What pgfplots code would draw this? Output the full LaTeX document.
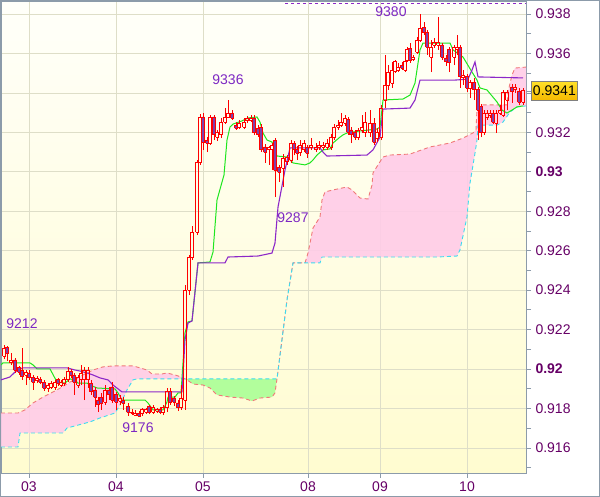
\documentclass[border=0pt]{standalone}
\usepackage{pgfplots}
\pgfplotsset{compat=1.18}
\usepackage{pgfplotstable}
\usepackage{fontspec}
\setmainfont{Liberation Sans}

\definecolor{tickpurple}{RGB}{102,0,102}
\definecolor{labelpurple}{RGB}{125,40,195}
\definecolor{axisgray}{RGB}{140,155,170}
\definecolor{gridc}{RGB}{222,222,200}
\definecolor{candlered}{RGB}{255,0,0}
\definecolor{candlefill}{RGB}{128,64,170}
\definecolor{tenkan}{RGB}{30,230,30}
\definecolor{kijun}{RGB}{140,40,200}
\definecolor{spanAc}{RGB}{240,120,120}
\definecolor{spanBc}{RGB}{60,220,240}
\definecolor{cloudpink}{RGB}{255,204,232}
\definecolor{cloudgreen}{RGB}{170,255,150}
\definecolor{bgtop}{RGB}{255,255,250}
\definecolor{bgbot}{RGB}{255,252,208}
\definecolor{boxtop}{RGB}{255,224,40}
\definecolor{boxbot}{RGB}{245,185,0}

% hourly candles, prices in pips (price x 10000): x (pixel position), open, high, low, close
\pgfplotstableread{
x o h l c
4 9206.5 9212.0 9205.0 9210.5
7 9211.0 9211.8 9204.0 9208.0
11 9203.1 9208.2 9202.1 9204.6
15 9204.6 9205.6 9198.0 9199.5
19 9200.6 9201.6 9197.0 9198.5
22 9199.5 9210.7 9194.5 9196.0
26 9197.0 9199.5 9191.9 9198.5
29 9198.0 9199.5 9194.5 9195.5
33 9195.5 9197.0 9189.4 9193.4
37 9194.0 9196.5 9192.9 9195.0
40 9194.5 9196.0 9192.4 9193.4
44 9193.4 9194.5 9188.9 9190.4
48 9190.4 9192.9 9188.4 9191.9
51 9190.9 9194.0 9189.9 9192.9
55 9190.9 9194.5 9189.4 9193.4
58 9194.5 9195.5 9191.4 9192.9
61 9191.9 9194.5 9190.9 9193.4
64 9192.9 9196.0 9191.4 9194.5
68 9194.5 9201.1 9193.4 9199.0
71 9199.0 9200.1 9195.5 9197.0
74 9197.0 9198.0 9186.9 9193.4
78 9191.9 9197.0 9190.4 9195.5
81 9194.5 9202.1 9191.9 9198.0
84 9194.5 9201.1 9184.3 9199.5
88 9194.5 9201.1 9190.4 9199.5
91 9192.9 9194.5 9186.9 9188.4
95 9189.4 9190.9 9180.8 9185.8
98 9184.3 9185.8 9178.2 9181.8
101 9185.8 9187.9 9179.3 9182.8
105 9183.3 9191.9 9181.8 9189.4
109 9189.4 9190.9 9184.3 9186.9
112 9190.9 9193.4 9182.8 9184.3
116 9186.9 9188.4 9179.3 9183.3
120 9183.8 9186.9 9181.8 9185.3
123 9184.3 9185.8 9179.3 9182.8
128 9180.8 9182.8 9176.2 9178.2
132 9178.2 9179.8 9176.7 9177.7
135 9176.7 9179.3 9176.2 9177.7
139 9177.7 9178.7 9176.0 9176.2
142 9177.7 9180.3 9176.2 9179.3
146 9178.2 9180.3 9177.2 9179.3
149 9180.8 9181.8 9177.2 9178.2
153 9178.2 9181.8 9177.2 9180.3
157 9178.7 9180.3 9177.7 9179.3
160 9179.3 9180.8 9177.2 9178.2
163 9178.2 9181.8 9176.7 9180.3
167 9180.3 9190.4 9178.2 9188.4
170 9188.4 9190.4 9181.8 9183.3
174 9185.3 9186.3 9181.3 9183.3
178 9182.8 9184.3 9178.7 9180.3
181 9180.3 9191.9 9179.3 9185.3
185 9184.3 9242.6 9179.3 9240.1
189 9240.1 9257.8 9237.5 9256.8
192 9256.8 9272.5 9255.3 9269.5
197 9269.5 9306.0 9267.9 9304.5
200 9304.5 9329.3 9303.5 9327.8
203 9327.8 9329.8 9311.1 9315.1
207 9316.1 9317.6 9310.0 9314.6
210 9314.6 9328.8 9313.6 9327.8
214 9327.8 9328.8 9316.1 9318.7
217 9317.6 9321.2 9315.6 9319.7
221 9318.7 9327.3 9317.1 9325.2
225 9325.2 9332.3 9324.2 9327.8
228 9327.8 9336.4 9327.3 9329.8
232 9329.8 9331.3 9326.3 9327.3
236 9323.7 9325.2 9321.2 9322.2
239 9322.7 9326.3 9321.7 9324.7
244 9322.7 9327.3 9321.7 9325.2
247 9325.8 9328.3 9324.7 9326.8
251 9325.8 9328.8 9325.2 9327.3
254 9327.3 9328.8 9318.7 9319.7
258 9322.2 9323.7 9317.6 9318.7
261 9322.7 9324.2 9310.0 9311.1
265 9312.6 9314.1 9304.5 9310.0
269 9311.1 9313.1 9303.5 9312.1
272 9311.1 9314.6 9300.9 9313.6
275 9316.1 9317.1 9287.2 9300.9
279 9302.4 9303.5 9294.8 9299.9
283 9301.9 9309.0 9292.3 9307.0
287 9305.0 9308.5 9303.5 9307.5
291 9306.0 9316.1 9304.5 9314.6
294 9314.6 9315.6 9308.5 9311.1
297 9311.1 9313.1 9306.0 9309.5
300 9310.0 9316.1 9308.0 9313.6
304 9311.1 9316.1 9310.0 9314.6
307 9312.1 9313.6 9307.0 9309.5
311 9312.1 9317.1 9311.1 9313.6
316 9311.1 9314.6 9310.0 9312.6
319 9312.1 9315.6 9311.1 9313.6
323 9312.6 9315.1 9311.1 9313.6
327 9312.6 9316.6 9311.1 9314.6
331 9312.6 9319.2 9311.1 9317.6
334 9317.6 9324.2 9316.1 9322.7
338 9322.7 9326.3 9321.2 9323.7
341 9323.7 9329.8 9322.7 9325.2
345 9324.7 9328.8 9323.2 9327.3
348 9326.3 9327.8 9318.7 9320.2
351 9321.2 9322.7 9314.6 9318.7
355 9319.7 9321.2 9316.1 9317.6
358 9317.6 9322.2 9316.1 9321.2
362 9321.2 9328.8 9319.7 9322.7
365 9319.7 9330.3 9317.6 9325.2
370 9319.7 9331.3 9317.6 9324.7
374 9324.7 9327.3 9313.6 9315.1
377 9317.1 9322.2 9315.1 9320.2
381 9317.6 9333.9 9316.1 9332.3
385 9336.4 9359.2 9332.3 9344.0
388 9344.0 9354.1 9341.5 9350.6
392 9345.0 9355.7 9342.5 9351.6
395 9351.1 9356.7 9350.1 9355.7
398 9351.6 9355.2 9350.6 9353.1
402 9354.1 9355.7 9351.6 9352.6
405 9351.6 9357.7 9350.6 9355.7
407 9356.7 9363.3 9355.7 9361.8
410 9362.3 9365.3 9355.2 9356.7
413 9357.2 9359.2 9356.2 9358.2
417 9360.7 9368.3 9359.7 9366.8
420 9366.8 9380.0 9365.8 9372.9
424 9373.4 9376.0 9369.3 9370.4
427 9370.4 9371.9 9359.2 9363.3
431 9358.2 9366.8 9350.6 9363.3
434 9364.3 9367.8 9362.8 9365.8
438 9364.3 9378.5 9361.8 9365.8
442 9364.3 9365.3 9356.7 9358.2
446 9357.7 9359.2 9353.6 9355.7
449 9361.8 9363.3 9350.6 9355.2
454 9358.2 9364.3 9354.1 9362.8
457 9361.8 9369.3 9359.2 9363.3
460 9362.8 9364.3 9342.5 9348.1
463 9347.6 9351.6 9344.0 9349.1
467 9348.1 9349.6 9340.5 9342.5
470 9342.5 9346.5 9337.4 9345.5
474 9345.5 9347.6 9336.4 9341.5
478 9341.5 9343.0 9316.1 9331.3
481 9332.9 9334.4 9317.6 9319.7
484 9320.2 9331.3 9318.7 9329.8
487 9327.8 9331.3 9326.3 9329.8
490 9328.8 9331.3 9327.3 9329.8
493 9329.8 9331.3 9324.2 9325.2
496 9324.7 9331.3 9319.7 9329.8
500 9329.8 9333.9 9328.8 9331.3
503 9328.8 9341.5 9327.8 9340.0
507 9336.4 9341.5 9331.3 9340.0
512 9343.0 9344.5 9334.9 9340.5
515 9341.5 9344.5 9340.0 9343.0
519 9340.5 9342.5 9333.9 9335.4
523 9335.4 9342.5 9333.9 9341.0
}\candles
\pgfplotstablegetrowsof{\candles}
\pgfmathtruncatemacro\ncandles{\pgfplotsretval-1}

\makeatletter
% #1 x, #2 open, #3 high, #4 low, #5 close
\newcommand\candle[5]{%
  \ifdim#2pt>#5pt\relax
    \edef\cbot{#5}\edef\ctop{#2}\def\cfill{candlefill}%
  \else
    \edef\cbot{#2}\edef\ctop{#5}\def\cfill{none}%
  \fi
  \edef\xl{\strip@pt\dimexpr#1pt-1.3pt\relax}%
  \edef\xr{\strip@pt\dimexpr#1pt+1.3pt\relax}%
  \edef\temp{%
    \noexpand\addplot[candlered, line width=0.9pt, forget plot] coordinates {(#1,#4) (#1,\cbot)};
    \noexpand\addplot[candlered, line width=0.9pt, forget plot] coordinates {(#1,\ctop) (#1,#3)};
    \noexpand\addplot[draw=candlered, fill=\cfill, line width=0.9pt, line join=miter, forget plot]
      coordinates {(\xl,\cbot) (\xr,\cbot) (\xr,\ctop) (\xl,\ctop) (\xl,\cbot)};
  }\temp}
\makeatother

\tikzset{lbl/.style={text=labelpurple, font=\fontsize{14}{14}\selectfont}}

\begin{document}
\begin{tikzpicture}
\useasboundingbox (0pt,0pt) rectangle (600pt,497pt);
\shade[top color=bgtop, bottom color=bgbot] (1pt,24pt) rectangle (526pt,496pt);
\begin{axis}[
  at={(1pt,24pt)}, anchor=south west, scale only axis,
  width=525pt, height=472pt,
  xmin=1, xmax=526, ymin=9147.3, ymax=9386.6,
  axis line style={draw=axisgray, line width=0.9pt},
  xtick={29,116,203,308,380,467},
  xticklabels={03,04,05,08,09,10},
  ytick={9160,9180,9200,9220,9240,9260,9280,9300,9320,9340,9360,9380},
  yticklabels={0.916,0.918,\textbf{0.92},0.922,0.924,0.926,0.928,\textbf{0.93},0.932,{},0.936,0.938},
  scaled ticks=false,
  minor ytick={9150,9170,9190,9210,9230,9250,9270,9290,9310,9330,9350,9370},
  tick align=outside, xtick pos=left, ytick pos=right, yticklabel pos=right,
  major tick length=5pt, minor tick length=5pt,
  tick style={draw=axisgray, line width=0.8pt},
  xmajorgrids, ymajorgrids, major grid style={draw=gridc, line width=0.8pt},
  ticklabel style={text=tickpurple, font=\fontsize{14}{14}\selectfont},
  yticklabel style={xshift=1pt},
]
% cloud fills (between senkou span A and span B)
\addplot[fill=cloudpink, draw=none, fill opacity=0.9, forget plot] coordinates {
(1,9177.7) (18,9177.7) (25,9179.3) (33,9182.8) (43,9185.8) (57,9189.4) (70,9193.4) (83,9197.0) (93,9199.5) (103,9201.1) (113,9201.6) (133,9201.6) (140,9200.6) (147,9199.5) (152,9197.5) (162,9197.5) (167,9198.0) (175,9197.0) (181,9196.0) (183,9195.5)
(183,9195.0) (137,9195.0) (133,9194.5) (127,9189.4) (120,9181.8) (115,9177.7) (100,9175.2) (90,9173.2) (67,9170.1) (63,9167.6) (20,9167.6) (18,9160.5) (1,9160.5)};
\addplot[fill=cloudgreen, draw=none, fill opacity=0.9, forget plot] coordinates {
(183,9195.5) (187,9194.5) (193,9192.4) (203,9191.9) (210,9190.4) (217,9186.9) (230,9185.8) (243,9185.3) (252,9183.8) (260,9185.3) (272,9185.8) (275,9187.9) (277,9195.0) (183,9195.0)};
\addplot[fill=cloudpink, draw=none, fill opacity=0.9, forget plot] coordinates {
(293,9253.8) (305,9253.8) (308,9258.8) (313,9271.5) (320,9277.1) (322,9285.7) (325,9289.8) (333,9290.8) (347,9292.3) (352,9290.8) (360,9286.7) (368,9286.2) (372,9293.3) (373,9299.4) (378,9303.5) (383,9307.5) (390,9308.5) (410,9309.0) (430,9312.6) (450,9314.6) (463,9317.1) (473,9319.7) (476,9321.2) (477,9331.8) (483,9333.9) (507,9333.9) (508,9340.5) (512,9349.1) (515,9352.6) (526,9353.1)
(526,9333.4) (517,9332.9) (510,9330.3) (503,9325.2) (497,9323.7) (478,9323.7) (477,9316.1) (475,9309.5) (470,9294.3) (467,9277.1) (460,9260.4) (457,9257.3) (437,9256.8) (322,9256.8) (320,9253.8) (293,9253.8)};

% Senkou span A and B (dashed)
\addplot[draw=spanAc, line width=0.9pt, dash pattern=on 4pt off 3pt] coordinates {
(1,9177.7) (18,9177.7) (25,9179.3) (33,9182.8) (43,9185.8) (57,9189.4) (70,9193.4) (83,9197.0) (93,9199.5) (103,9201.1) (113,9201.6) (133,9201.6) (140,9200.6) (147,9199.5) (152,9197.5) (162,9197.5) (167,9198.0) (175,9197.0) (181,9196.0) (187,9194.5) (193,9192.4) (203,9191.9) (210,9190.4) (217,9186.9) (230,9185.8) (243,9185.3) (252,9183.8) (260,9185.3) (272,9185.8) (275,9187.9) (277,9195.0) (287,9235.0) (293,9253.8) (305,9253.8) (308,9258.8) (313,9271.5) (320,9277.1) (322,9285.7) (325,9289.8) (333,9290.8) (347,9292.3) (352,9290.8) (360,9286.7) (368,9286.2) (372,9293.3) (373,9299.4) (378,9303.5) (383,9307.5) (390,9308.5) (410,9309.0) (430,9312.6) (450,9314.6) (463,9317.1) (473,9319.7) (476,9321.2) (477,9331.8) (483,9333.9) (507,9333.9) (508,9340.5) (512,9349.1) (515,9352.6) (526,9353.1)};
\addplot[draw=spanBc, line width=0.9pt, dash pattern=on 4pt off 3pt] coordinates {
(1,9160.5) (18,9160.5) (20,9167.6) (63,9167.6) (67,9170.1) (90,9173.2) (100,9175.2) (115,9177.7) (120,9181.8) (127,9189.4) (133,9194.5) (137,9195.0) (277,9195.0) (287,9235.0) (293,9253.8) (320,9253.8) (322,9256.8) (437,9256.8) (457,9257.3) (460,9260.4) (467,9277.1) (470,9294.3) (475,9309.5) (477,9316.1) (478,9323.7) (497,9323.7) (503,9325.2) (510,9330.3) (517,9332.9) (526,9333.4)};

% Tenkan-sen (conversion line)
\addplot[tenkan, line width=1pt] coordinates {
(1,9202.1) (3,9203.1) (30,9203.1) (33,9202.1) (37,9200.1) (50,9200.1) (57,9193.4) (65,9192.9) (70,9195.0) (75,9194.5) (78,9192.9) (87,9192.9) (90,9191.9) (97,9190.4) (115,9189.9) (118,9187.9) (122,9184.3) (145,9184.3) (148,9182.8) (153,9179.3) (163,9179.3) (167,9183.3) (168,9185.8) (175,9185.8) (178,9187.9) (181,9187.9) (185,9218.3) (188,9223.9) (192,9224.4) (198,9253.8) (210,9254.3) (213,9259.3) (217,9285.7) (224,9298.4) (227,9316.1) (230,9322.7) (233,9324.2) (242,9325.8) (248,9327.3) (257,9327.8) (260,9325.2) (263,9319.7) (267,9316.1) (272,9315.1) (277,9308.0) (287,9307.5) (293,9304.5) (305,9303.5) (310,9304.5) (313,9306.0) (317,9308.5) (323,9311.1) (330,9311.6) (333,9314.6) (340,9317.6) (343,9318.7) (347,9319.7) (360,9320.7) (377,9321.7) (380,9322.7) (383,9336.4) (403,9336.9) (410,9338.9) (415,9345.0) (420,9361.8) (423,9365.3) (450,9365.3) (453,9361.8) (463,9358.2) (472,9350.6) (477,9346.5) (480,9342.5) (487,9341.5) (497,9335.4) (502,9331.3) (507,9329.8) (512,9331.3) (517,9332.9) (523,9333.4)};
% Kijun-sen (base line)
\addplot[kijun, line width=1.1pt] coordinates {
(1,9194.5) (10,9196.0) (15,9198.5) (20,9200.1) (23,9200.6) (67,9200.6) (75,9199.5) (80,9199.0) (87,9198.0) (93,9197.0) (100,9195.5) (108,9194.5) (113,9191.9) (122,9188.4) (182,9188.4) (185,9214.7) (188,9223.3) (192,9224.4) (198,9253.8) (225,9253.8) (228,9256.8) (258,9257.3) (272,9258.8) (275,9263.9) (278,9282.1) (285,9300.9) (290,9312.1) (320,9312.1) (323,9310.0) (327,9308.0) (367,9308.5) (373,9311.1) (380,9317.6) (383,9331.8) (410,9332.3) (415,9336.4) (420,9346.5) (455,9346.5) (468,9347.0) (472,9351.6) (475,9355.7) (478,9348.1) (523,9347.6)};
% high marker line
\addplot[kijun, line width=0.8pt, dash pattern=on 3pt off 3pt] coordinates {(285,9385.6) (526,9385.6)};

% candlesticks
\pgfplotsinvokeforeach{0,...,\ncandles}{%
  \pgfplotstablegetelem{#1}{x}\of\candles\let\cx\pgfplotsretval
  \pgfplotstablegetelem{#1}{o}\of\candles\let\co\pgfplotsretval
  \pgfplotstablegetelem{#1}{h}\of\candles\let\ch\pgfplotsretval
  \pgfplotstablegetelem{#1}{l}\of\candles\let\cl\pgfplotsretval
  \pgfplotstablegetelem{#1}{c}\of\candles\let\cc\pgfplotsretval
  \candle{\cx}{\co}{\ch}{\cl}{\cc}
}

\node[lbl] at (axis cs:22,9222.8) {9212};
\node[lbl] at (axis cs:228,9346.5) {9336};
\node[lbl] at (axis cs:293,9276.6) {9287};
\node[lbl] at (axis cs:391,9381.0) {9380};
\node[lbl] at (axis cs:138,9170.1) {9176};
\coordinate (lp) at (axis cs:526,9341);
\end{axis}
\draw[axisgray, line width=0.8pt] (lp) -- ++(6pt,0pt);
\node[draw=gray, line width=0.8pt, top color=boxtop, bottom color=boxbot, anchor=west,
  minimum width=46pt, minimum height=19pt, inner sep=1pt,
  font=\fontsize{14}{14}\selectfont] at ([xshift=5pt]lp) {0.9341};
\draw[axisgray, line width=0.9pt] (0.5pt,0.5pt) rectangle (599.5pt,496.5pt);
\end{tikzpicture}
\end{document}
